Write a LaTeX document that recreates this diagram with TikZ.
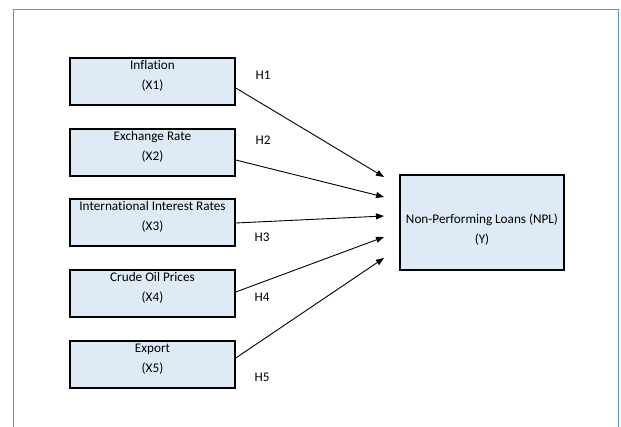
\documentclass[tikz,border=0pt]{standalone}
\usepackage{fontspec}
\setmainfont{Carlito}[Ligatures=CommonOff]
\usepackage{xcolor}
\usetikzlibrary{positioning, arrows.meta, calc}

\definecolor{boxfill}{HTML}{DEEAF6}
\definecolor{framecol}{HTML}{5B9BD5}

\begin{document}
\begin{tikzpicture}[x=1pt, y=-1pt,
        var/.style={rectangle, draw=black, line width=1.5pt, fill=boxfill, minimum width=165pt, minimum height=47pt, align=center, font=\fontsize{13.2}{20}\selectfont, inner sep=0pt, text depth=13pt},
        dep/.style={var, minimum width=164pt, minimum height=95pt, text depth=, text height=43pt},
        hyp/.style={font=\fontsize{13.2}{14}\selectfont},
        link/.style={line width=0.9pt, -{Triangle[length=8pt, width=6pt]}},
    ]
    \useasboundingbox (0,0) rectangle (621,427);

    % Outer frame
    \draw[framecol, line width=1pt] (13,427) -- (13,10) -- (618,10) -- (618,427);

    % Independent variables
    \node[var] (x1) at (152.5, 81.5) {Inflation\\(X1)};
    \node[var] (x2) at (152.5, 152.5) {Exchange Rate\\(X2)};
    \node[var] (x3) at (152.5, 222.5) {International Interest Rates\\(X3)};
    \node[var] (x4) at (152.5, 293.5) {Crude Oil Prices\\(X4)};
    \node[var] (x5) at (152.5, 364.5) {Export\\(X5)};

    % Dependent variable
    \node[dep] (npl) at (482, 222.5) {Non-Performing Loans (NPL)\\(Y)};

    % Arrow targets
    \foreach \i/\dy in {1/177, 2/197, 3/216, 4/237, 5/258} {
        \coordinate (t\i) at (384, \dy);
    }

    % Hypotheses
    \foreach \i/\dy in {1/6.5, 2/7.5, 3/0.5, 4/-1.5, 5/-6.5} {
        \draw[link] ($(x\i.east)+(0,\dy)$) -- (t\i);
    }
    \node[hyp] (h1) at (263, 75) {H1};
    \node[hyp] (h2) at (263, 140) {H2};
    \node[hyp] (h3) at (262, 237) {H3};
    \node[hyp] (h4) at (262, 297) {H4};
    \node[hyp] (h5) at (262, 377) {H5};

\end{tikzpicture}
\end{document}
